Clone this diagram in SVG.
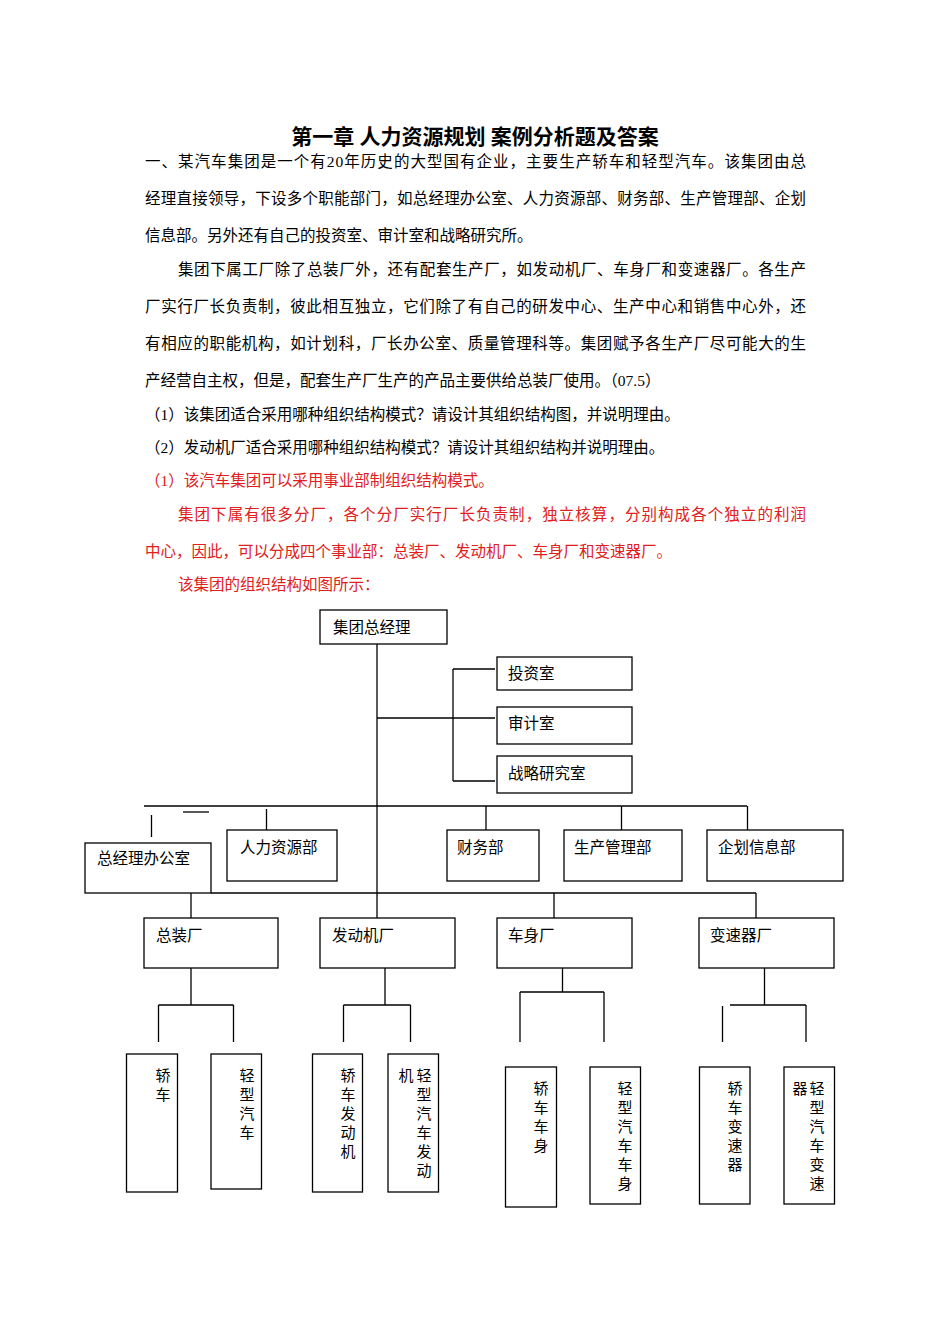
<svg xmlns="http://www.w3.org/2000/svg" width="950" height="1344" viewBox="0 0 950 1344">
<style>
text{font-family:"Liberation Serif","Noto Sans CJK SC",serif;font-size:15.5px;fill:#000}
.t{font-size:21px;font-weight:bold}
.r{fill:#e02020}
.b{fill:#fff;stroke:#000;stroke-width:1.3}
.c line{stroke:#000;stroke-width:1.3}
.n{font-size:15px}
</style>
<rect width="950" height="1344" fill="#fff"/>
<text class="t" x="475" y="144" text-anchor="middle">第一章 人力资源规划 案例分析题及答案</text>
<text x="145" y="167" textLength="661" lengthAdjust="spacing">一、某汽车集团是一个有20年历史的大型国有企业，主要生产轿车和轻型汽车。该集团由总</text>
<text x="145" y="204" textLength="661" lengthAdjust="spacing">经理直接领导，下设多个职能部门，如总经理办公室、人力资源部、财务部、生产管理部、企划</text>
<text x="145" y="241">信息部。另外还有自己的投资室、审计室和战略研究所。</text>
<text x="178" y="275" textLength="628" lengthAdjust="spacing">集团下属工厂除了总装厂外，还有配套生产厂，如发动机厂、车身厂和变速器厂。各生产</text>
<text x="145" y="312" textLength="661" lengthAdjust="spacing">厂实行厂长负责制，彼此相互独立，它们除了有自己的研发中心、生产中心和销售中心外，还</text>
<text x="145" y="349" textLength="661" lengthAdjust="spacing">有相应的职能机构，如计划科，厂长办公室、质量管理科等。集团赋予各生产厂尽可能大的生</text>
<text x="145" y="386">产经营自主权，但是，配套生产厂生产的产品主要供给总装厂使用。（07.5）</text>
<text x="145" y="420">（1）该集团适合采用哪种组织结构模式？请设计其组织结构图，并说明理由。</text>
<text x="145" y="453">（2）发动机厂适合采用哪种组织结构模式？请设计其组织结构并说明理由。</text>
<text class="r" x="145" y="486">（1）该汽车集团可以采用事业部制组织结构模式。</text>
<text class="r" x="178" y="520" textLength="628" lengthAdjust="spacing">集团下属有很多分厂，各个分厂实行厂长负责制，独立核算，分别构成各个独立的利润</text>
<text class="r" x="145" y="557">中心，因此，可以分成四个事业部：总装厂、发动机厂、车身厂和变速器厂。</text>
<text class="r" x="178" y="590">该集团的组织结构如图所示：</text>

<g class="c" id="connectors">
<line x1="377" y1="644" x2="377" y2="918"/>
<line x1="377" y1="718" x2="495" y2="718"/>
<line x1="453" y1="669" x2="453" y2="781"/>
<line x1="453" y1="669" x2="495" y2="669"/>
<line x1="453" y1="781" x2="495" y2="781"/>
<line x1="144" y1="806" x2="747" y2="806"/>
<line x1="151.5" y1="815" x2="151.5" y2="837"/>
<line x1="183" y1="812" x2="209" y2="812"/>
<line x1="266.5" y1="809" x2="266.5" y2="830"/>
<line x1="486" y1="806" x2="486" y2="830"/>
<line x1="621.5" y1="806" x2="621.5" y2="830"/>
<line x1="747.5" y1="806" x2="747.5" y2="830"/>
<line x1="211" y1="893" x2="756" y2="893"/>
<line x1="191" y1="893" x2="191" y2="918"/>
<line x1="554" y1="893" x2="554" y2="918"/>
<line x1="756" y1="893" x2="756" y2="918"/>
<line x1="191" y1="968" x2="191" y2="1005"/>
<line x1="158.5" y1="1005" x2="233.5" y2="1005"/>
<line x1="158.5" y1="1005" x2="158.5" y2="1042"/>
<line x1="233.5" y1="1005" x2="233.5" y2="1042"/>
<line x1="385" y1="968" x2="385" y2="1005"/>
<line x1="343.5" y1="1005" x2="410.5" y2="1005"/>
<line x1="343.5" y1="1005" x2="343.5" y2="1042"/>
<line x1="410.5" y1="1005" x2="410.5" y2="1042"/>
<line x1="562.5" y1="968" x2="562.5" y2="992"/>
<line x1="520" y1="992" x2="604" y2="992"/>
<line x1="520" y1="992" x2="520" y2="1042"/>
<line x1="604" y1="992" x2="604" y2="1042"/>
<line x1="764.5" y1="968" x2="764.5" y2="1005"/>
<line x1="730" y1="1005" x2="806" y2="1005"/>
<line x1="722.5" y1="1006" x2="722.5" y2="1042"/>
<line x1="806" y1="1005" x2="806" y2="1042"/>
</g>

<g id="n-top"><rect class="b" x="320" y="610" width="127" height="34"/><text x="333" y="633">集团总经理</text></g>
<g id="n-tz"><rect class="b" x="497" y="657" width="135" height="33"/><text x="508" y="679">投资室</text></g>
<g id="n-sj"><rect class="b" x="497" y="707" width="135" height="37"/><text x="508" y="729">审计室</text></g>
<g id="n-zl"><rect class="b" x="497" y="756" width="135" height="37"/><text x="508" y="779">战略研究室</text></g>
<g id="n-zjl"><rect class="b" x="85" y="843" width="126" height="50"/><text x="97" y="864">总经理办公室</text></g>
<g id="n-rl"><rect class="b" x="227" y="830" width="110" height="51"/><text x="240" y="853">人力资源部</text></g>
<g id="n-cw"><rect class="b" x="447" y="830" width="92" height="51"/><text x="457" y="853">财务部</text></g>
<g id="n-sc"><rect class="b" x="564" y="830" width="118" height="51"/><text x="574" y="853">生产管理部</text></g>
<g id="n-qh"><rect class="b" x="707" y="830" width="136" height="51"/><text x="718" y="853">企划信息部</text></g>
<g id="n-zz"><rect class="b" x="144" y="918" width="134" height="50"/><text x="156" y="941">总装厂</text></g>
<g id="n-fd"><rect class="b" x="320" y="918" width="135" height="50"/><text x="332" y="941">发动机厂</text></g>
<g id="n-cs"><rect class="b" x="497" y="918" width="135" height="50"/><text x="508" y="941">车身厂</text></g>
<g id="n-bs"><rect class="b" x="699" y="918" width="135" height="50"/><text x="710" y="941">变速器厂</text></g>

<g id="l1"><rect class="b" x="126.5" y="1054" width="51" height="138"/><text class="n" text-anchor="middle"><tspan x="163" y="1081">轿</tspan><tspan x="163" y="1100">车</tspan></text></g>
<g id="l2"><rect class="b" x="211" y="1054" width="50.5" height="135"/><text class="n" text-anchor="middle"><tspan x="247" y="1081">轻</tspan><tspan x="247" y="1100">型</tspan><tspan x="247" y="1119">汽</tspan><tspan x="247" y="1138">车</tspan></text></g>
<g id="l3"><rect class="b" x="312.5" y="1054" width="50" height="138"/><text class="n" text-anchor="middle"><tspan x="348" y="1081">轿</tspan><tspan x="348" y="1100">车</tspan><tspan x="348" y="1119">发</tspan><tspan x="348" y="1138">动</tspan><tspan x="348" y="1157">机</tspan></text></g>
<g id="l4"><rect class="b" x="388" y="1054" width="50.5" height="138"/><text class="n" text-anchor="middle"><tspan x="424" y="1081">轻</tspan><tspan x="424" y="1100">型</tspan><tspan x="424" y="1119">汽</tspan><tspan x="424" y="1138">车</tspan><tspan x="424" y="1157">发</tspan><tspan x="424" y="1176">动</tspan><tspan x="406" y="1081">机</tspan></text></g>
<g id="l5"><rect class="b" x="505.5" y="1067" width="51" height="140"/><text class="n" text-anchor="middle"><tspan x="541" y="1094">轿</tspan><tspan x="541" y="1113">车</tspan><tspan x="541" y="1132">车</tspan><tspan x="541" y="1151">身</tspan></text></g>
<g id="l6"><rect class="b" x="590" y="1067" width="50.5" height="137"/><text class="n" text-anchor="middle"><tspan x="625" y="1094">轻</tspan><tspan x="625" y="1113">型</tspan><tspan x="625" y="1132">汽</tspan><tspan x="625" y="1151">车</tspan><tspan x="625" y="1170">车</tspan><tspan x="625" y="1189">身</tspan></text></g>
<g id="l7"><rect class="b" x="699.5" y="1067" width="50.5" height="137"/><text class="n" text-anchor="middle"><tspan x="735" y="1094">轿</tspan><tspan x="735" y="1113">车</tspan><tspan x="735" y="1132">变</tspan><tspan x="735" y="1151">速</tspan><tspan x="735" y="1170">器</tspan></text></g>
<g id="l8"><rect class="b" x="784" y="1067" width="50.5" height="137"/><text class="n" text-anchor="middle"><tspan x="817" y="1094">轻</tspan><tspan x="817" y="1113">型</tspan><tspan x="817" y="1132">汽</tspan><tspan x="817" y="1151">车</tspan><tspan x="817" y="1170">变</tspan><tspan x="817" y="1189">速</tspan><tspan x="800" y="1094">器</tspan></text></g>
</svg>
